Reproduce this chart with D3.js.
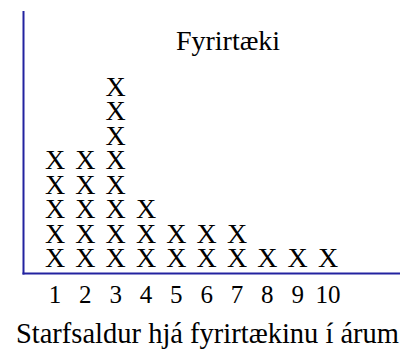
<html>
<head>
  <meta charset="utf-8">
  <script src="https://d3js.org/d3.v7.min.js"></script>
</head>
<body style="margin:0">
  <script>
    // Data: years of service, and number of employees (X marks) for each
    var years = ["1", "2", "3", "4", "5", "6", "7", "8", "9", "10"];
    var counts = [5, 5, 8, 3, 2, 2, 2, 1, 1, 1];
    var title = "Fyrirtæki";
    var xTitle = "Starfsaldur hjá fyrirtækinu í árum";

    var width = 405, height = 352;
    var svg = d3.select("body").append("svg")
        .attr("width", width)
        .attr("height", height);

    // Scales
    var x = d3.scalePoint()
        .domain(years)
        .range([55, 328]);
    var y = d3.scaleLinear()
        .domain([0, 8])
        .range([273, 77]);

    // One X per unit
    var marks = [];
    years.forEach(function(yr, i) {
      for (var k = 0; k < counts[i]; k++) marks.push({ year: yr, level: k });
    });

    svg.selectAll(".mark")
        .data(marks)
        .enter().append("text")
        .attr("class", "mark")
        .attr("x", function(d) { return x(d.year); })
        .attr("y", function(d) { return y(d.level) - 6; })
        .attr("text-anchor", "middle")
        .style("font-family", "'Liberation Serif'")
        .style("font-size", "28px")
        .text("X");

    // Axes lines
    svg.append("line")
        .attr("x1", 23.5).attr("x2", 23.5)
        .attr("y1", 11).attr("y2", 274.5)
        .attr("stroke", "#2323a0").attr("stroke-width", 2);
    svg.append("line")
        .attr("x1", 22.5).attr("x2", 400)
        .attr("y1", 273.5).attr("y2", 273.5)
        .attr("stroke", "#2323a0").attr("stroke-width", 2);

    // Tick labels
    svg.selectAll(".tick")
        .data(years)
        .enter().append("text")
        .attr("class", "tick")
        .attr("x", function(d) { return x(d); })
        .attr("y", 303)
        .attr("text-anchor", "middle")
        .style("font-family", "'Liberation Serif'")
        .style("font-size", "25px")
        .text(function(d) { return d; });

    // Title
    svg.append("text")
        .attr("x", 228)
        .attr("y", 50)
        .attr("text-anchor", "middle")
        .style("font-family", "'Liberation Serif'")
        .style("font-size", "28px")
        .text(title);

    // Axis title
    svg.append("text")
        .attr("x", 207.5)
        .attr("y", 343)
        .attr("text-anchor", "middle")
        .style("font-family", "'Liberation Serif'")
        .style("font-size", "28.5px")
        .text(xTitle);
  </script>
</body>
</html>
